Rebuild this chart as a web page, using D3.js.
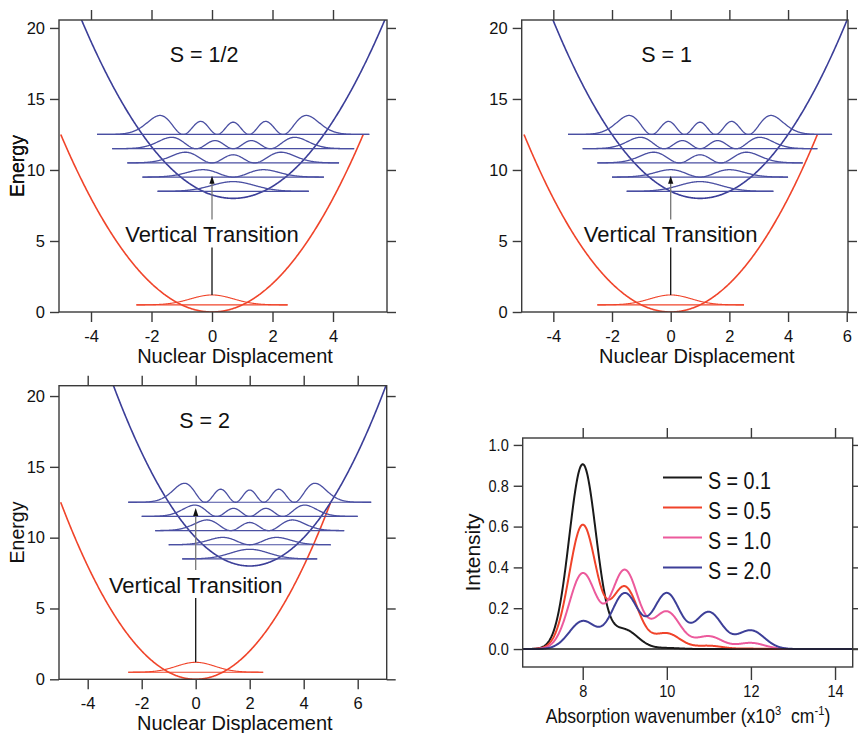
<!DOCTYPE html>
<html><head><meta charset="utf-8">
<script src="https://cdn.jsdelivr.net/npm/d3@7"></script>
<style>body{margin:0;background:#fff} text{font-family:"Liberation Sans",Arial,sans-serif;fill:#111}</style>
</head><body><svg id="c" width="858" height="733" xmlns="http://www.w3.org/2000/svg"></svg>
<script>
// ---------------- data ----------------
const panelLabels = ["S = 1/2", "S = 1", "S = 2"];
const displacements = [0.7, 1.0, 2.0];          // excited-state minimum position
const excitedMinimum = 8;                        // excited-state minimum energy
const excitedLevels = [8.5, 9.5, 10.5, 11.5, 12.5];
const excitedHalfWidths = [2.5, 3.0, 3.5, 4.0, 4.5];
const excitedAmplitudes = [0.68, 0.52, 0.75, 0.80, 1.34];
const groundLevel = 0.5;
const groundHalfWidth = 2.5;
const groundAmplitude = 0.7;
const groundRange = [-5, 5];
const energyTicks = [0, 5, 10, 15, 20];
const dispTicks = [[-4, -2, 0, 2, 4], [-4, -2, 0, 2, 4, 6], [-4, -2, 0, 2, 4, 6]];
const arrowBase = 1.2;
const arrowTips = [9.6, 9.6, 12.1];
const transitionTextY = [4.9, 4.9, 6.1];
const labelPos = [[-0.26, 17.63], [-0.14, 17.6], [0.33, 17.76]];

const spectrumLabels = ["S = 0.1", "S = 0.5", "S = 1.0", "S = 2.0"];
const peakPositions = [8, 9, 10, 11, 12];
const peaksS01 = [0.905, 0.092, 0.005, 0, 0];
const peaksS05 = [0.607, 0.303, 0.076, 0.016, 0.002];
const peaksS10 = [0.370, 0.385, 0.182, 0.062, 0.030];
const peaksS20 = [0.136, 0.272, 0.272, 0.180, 0.091];
const bandWidth = 0.32;
const spectrumColors = ["#1a1a1a", "#f0432a", "#ec5a9c", "#3d3f98"];
const intensityTicks = [0, 0.2, 0.4, 0.6, 0.8, 1.0];
const wavenumberTicks = [8, 10, 12, 14];

// ---------------- layout ----------------
const BLUE = "#3b3e98", BLUE2 = "#4a4fa2", RED = "#f0442a", FRAME = "#3a3a3a";
const FONT = '"Liberation Sans",Arial,sans-serif';
const panels = [
  {left: 59, right: 387, top: 20, bottom: 312, xd: [-5.058, 5.785], yd: [0, 20.56]},
  {left: 521.7, right: 848, top: 20, bottom: 312, xd: [-5.078, 6.043], yd: [0, 20.56]},
  {left: 59, right: 386.7, top: 385.7, bottom: 679.3, xd: [-5.063, 7.074], yd: [0, 20.73]}
];
const specPanel = {left: 522.7, right: 852.7, top: 438, bottom: 667, xd: [6.573, 14.42], yd: [-0.088, 1.034]};

const svg = d3.select("#c");
const defs = svg.append("defs");

function hermite(n, u) {
  let h0 = 1, h1 = 2 * u;
  if (n === 0) return h0;
  for (let k = 1; k < n; k++) { const h2 = 2 * u * h1 - 2 * k * h0; h0 = h1; h1 = h2; }
  return h1;
}
function psi2(n, u) { const h = hermite(n, u); return h * h * Math.exp(-u * u); }

function frameAndAxes(g, p, x, y, xt, yt, fmtX, fmtY, opts) {
  const ax = g.append("g").attr("transform", `translate(0,${p.bottom})`)
    .call(d3.axisBottom(x).tickValues(xt).tickSize(opts.bt).tickPadding(opts.bp).tickFormat(fmtX));
  const at = g.append("g").attr("transform", `translate(0,${p.top})`)
    .call(d3.axisTop(x).tickValues(xt).tickSize(10).tickFormat(""));
  const al = g.append("g").attr("transform", `translate(${p.left},0)`)
    .call(d3.axisLeft(y).tickValues(yt).tickSize(9).tickPadding(opts.lp).tickFormat(fmtY));
  const ar = g.append("g").attr("transform", `translate(${p.right},0)`)
    .call(d3.axisRight(y).tickValues(yt).tickSize(9).tickFormat(""));
  [ax, at, al, ar].forEach(a => {
    a.select(".domain").remove();
    a.selectAll("line").attr("stroke", FRAME).attr("stroke-width", 1.4);
    a.selectAll("text").style("font-size", opts.fs + "px").attr("fill", "#111")
      .style("font-family", FONT);
  });
  g.append("rect").attr("x", p.left).attr("y", p.top).attr("width", p.right - p.left)
    .attr("height", p.bottom - p.top).attr("fill", "none").attr("stroke", FRAME).attr("stroke-width", 1.4);
}

panels.forEach((p, i) => {
  const g = svg.append("g");
  const x = d3.scaleLinear().domain(p.xd).range([p.left, p.right]);
  const y = d3.scaleLinear().domain(p.yd).range([p.bottom, p.top]);
  const d = displacements[i];
  const cid = "clip" + i;
  defs.append("clipPath").attr("id", cid).append("rect")
    .attr("x", p.left).attr("y", p.top).attr("width", p.right - p.left).attr("height", p.bottom - p.top);
  const line = d3.line().x(v => x(v[0])).y(v => y(v[1]));
  const plot = g.append("g").attr("clip-path", `url(#${cid})`);

  // ground-state potential
  const gx = d3.range(groundRange[0], groundRange[1] + 1e-9, 0.02);
  plot.append("path").attr("d", line(gx.map(v => [v, 0.5 * v * v])))
    .attr("fill", "none").attr("stroke", RED).attr("stroke-width", 1.6);
  // ground vibrational level
  const gw = d3.range(-groundHalfWidth, groundHalfWidth + 1e-9, 0.02);
  plot.append("path").attr("d", line([[-groundHalfWidth, groundLevel], [groundHalfWidth, groundLevel]]))
    .attr("fill", "none").attr("stroke", RED).attr("stroke-width", 1.1);
  plot.append("path").attr("d", line(gw.map(v => [v, groundLevel + groundAmplitude * Math.exp(-v * v)])))
    .attr("fill", "none").attr("stroke", RED).attr("stroke-width", 1.1);

  // excited-state potential
  const ex = d3.range(p.xd[0], p.xd[1] + 1e-9, 0.02);
  plot.append("path").attr("d", line(ex.map(v => [v, excitedMinimum + 0.5 * (v - d) * (v - d)])))
    .attr("fill", "none").attr("stroke", BLUE).attr("stroke-width", 1.6);

  // excited vibrational levels
  excitedLevels.forEach((E, n) => {
    const hw = excitedHalfWidths[n];
    const us = d3.range(-hw, hw + 1e-9, 0.02);
    const mx = d3.max(us, u => psi2(n, u));
    plot.append("path").attr("d", line([[d - hw, E], [d + hw, E]]))
      .attr("fill", "none").attr("stroke", BLUE2).attr("stroke-width", 1.2);
    plot.append("path").attr("d", line(us.map(u => [d + u, E + excitedAmplitudes[n] * psi2(n, u) / mx])))
      .attr("fill", "none").attr("stroke", BLUE2).attr("stroke-width", 1.3);
  });

  // vertical transition arrow
  const ax0 = x(0);
  const tY = y(transitionTextY[i]);
  g.append("line").attr("x1", ax0).attr("x2", ax0).attr("y1", y(arrowBase)).attr("y2", tY + 5)
    .attr("stroke", "#111").attr("stroke-width", 1.3);
  const tip = y(arrowTips[i]);
  g.append("line").attr("x1", ax0).attr("x2", ax0).attr("y1", tY - 23).attr("y2", tip + 6)
    .attr("stroke", "#777").attr("stroke-width", 1.3);
  g.append("path").attr("d", `M${ax0},${tip}L${ax0 - 2.6},${tip + 8}L${ax0 + 2.6},${tip + 8}Z`).attr("fill", "#111");
  g.append("text").attr("x", ax0).attr("y", tY).attr("text-anchor", "middle")
    .style("font-size", "22px").text("Vertical Transition");

  g.append("text").attr("x", x(labelPos[i][0])).attr("y", y(labelPos[i][1])).attr("text-anchor", "middle")
    .style("font-size", "21.5px").text(panelLabels[i]);

  frameAndAxes(g, p, x, y, dispTicks[i], energyTicks, v => String(v), v => String(v),
    {bt: 10, bp: 8, lp: 5, fs: 16.5});

  g.append("text").attr("x", (p.left + p.right) / 2 + 12).attr("y", p.bottom + 51).attr("text-anchor", "middle")
    .style("font-size", "20px").text("Nuclear Displacement");
  g.append("text").attr("transform", `translate(24,${(p.top + p.bottom) / 2}) rotate(-90)`)
    .attr("text-anchor", "middle").style("font-size", "19.5px").text("Energy");
});

// ---------------- spectrum ----------------
{
  const p = specPanel;
  const g = svg.append("g");
  const x = d3.scaleLinear().domain(p.xd).range([p.left, p.right]);
  const y = d3.scaleLinear().domain(p.yd).range([p.bottom, p.top]);
  defs.append("clipPath").attr("id", "clipS").append("rect")
    .attr("x", p.left).attr("y", p.top).attr("width", p.right - p.left).attr("height", p.bottom - p.top);
  const plot = g.append("g").attr("clip-path", "url(#clipS)");
  g.append("line").attr("x1", p.left).attr("x2", 858).attr("y1", y(0)).attr("y2", y(0))
    .attr("stroke", "#1a1a1a").attr("stroke-width", 1.4);
  const series = [peaksS01, peaksS05, peaksS10, peaksS20];
  const xs = d3.range(p.xd[0], p.xd[1] + 1e-9, 0.01);
  const line = d3.line().x(v => x(v[0])).y(v => y(v[1]));
  series.forEach((pk, s) => {
    const pts = xs.map(w => [w, d3.sum(pk, (a, k) => a * Math.exp(-((w - peakPositions[k]) ** 2) / (2 * bandWidth * bandWidth)))]);
    plot.append("path").attr("d", line(pts)).attr("fill", "none")
      .attr("stroke", spectrumColors[s]).attr("stroke-width", 2);
  });
  frameAndAxes(g, p, x, y, wavenumberTicks, intensityTicks, v => String(v), d3.format(".1f"),
    {bt: 13, bp: 5, lp: 5, fs: 16.5});
  // narrow look of tick labels in this panel
  g.selectAll(".tick text").attr("textLength", function() { return this.getComputedTextLength() * 0.88; })
    .attr("lengthAdjust", "spacingAndGlyphs");

  // legend
  spectrumLabels.forEach((lab, s) => {
    const ly = 477.5 + s * 30;
    g.append("line").attr("x1", 663).attr("x2", 702).attr("y1", ly).attr("y2", ly)
      .attr("stroke", spectrumColors[s]).attr("stroke-width", 2);
    g.append("text").attr("x", 708).attr("y", ly + 11.5).style("font-size", "24px")
      .attr("textLength", 63).attr("lengthAdjust", "spacingAndGlyphs").text(lab);
  });

  g.append("text").attr("transform", `translate(480,${(p.top + p.bottom) / 2}) rotate(-90)`)
    .attr("text-anchor", "middle").style("font-size", "21px").text("Intensity");
  const xt = g.append("text").attr("transform", "translate(688,723) scale(0.86,1)")
    .attr("text-anchor", "middle").style("font-size", "20.5px");
  xt.append("tspan").text("Absorption wavenumber (x10");
  xt.append("tspan").attr("dy", -8).style("font-size", "13px").text("3");
  xt.append("tspan").attr("dy", 8).text("\u00a0 cm");
  xt.append("tspan").attr("dy", -8).style("font-size", "13px").text("-1");
  xt.append("tspan").attr("dy", 8).text(")");
}
</script></body></html>
